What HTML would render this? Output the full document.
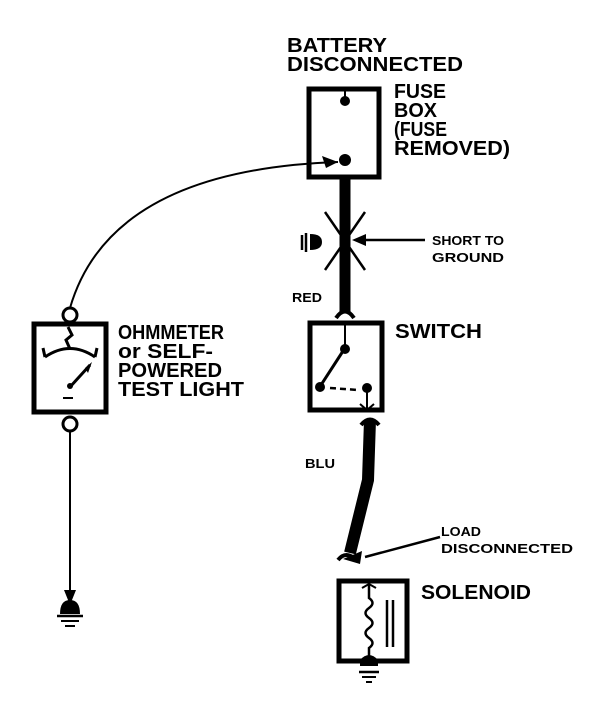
<!DOCTYPE html>
<html><head><style>body{margin:0;background:#fff}svg{display:block}text{font-family:"Liberation Sans",Arial,sans-serif;font-weight:bold;fill:#000}</style></head><body>
<svg width="608" height="708" viewBox="0 0 608 708" xmlns="http://www.w3.org/2000/svg">
<g font-size="20">
<text x="287" y="52" textLength="100" lengthAdjust="spacingAndGlyphs">BATTERY</text>
<text x="287" y="71" textLength="176" lengthAdjust="spacingAndGlyphs">DISCONNECTED</text>
<text x="394" y="98" textLength="52" lengthAdjust="spacingAndGlyphs">FUSE</text>
<text x="394" y="117" textLength="43" lengthAdjust="spacingAndGlyphs">BOX</text>
<text x="394" y="136" textLength="53" lengthAdjust="spacingAndGlyphs">(FUSE</text>
<text x="394" y="155" textLength="116" lengthAdjust="spacingAndGlyphs">REMOVED)</text>
<text x="395" y="338" textLength="87" lengthAdjust="spacingAndGlyphs">SWITCH</text>
<text x="118" y="339" textLength="106" lengthAdjust="spacingAndGlyphs">OHMMETER</text>
<text x="118" y="358" textLength="95" lengthAdjust="spacingAndGlyphs">or SELF-</text>
<text x="118" y="377" textLength="104" lengthAdjust="spacingAndGlyphs">POWERED</text>
<text x="118" y="396" textLength="126" lengthAdjust="spacingAndGlyphs">TEST LIGHT</text>
<text x="421" y="599" textLength="110" lengthAdjust="spacingAndGlyphs">SOLENOID</text>
</g>
<g font-size="13">
<text x="432" y="245" textLength="72" lengthAdjust="spacingAndGlyphs">SHORT TO</text>
<text x="432" y="262" textLength="72" lengthAdjust="spacingAndGlyphs">GROUND</text>
<text x="292" y="302" textLength="30" lengthAdjust="spacingAndGlyphs">RED</text>
<text x="305" y="468" textLength="30" lengthAdjust="spacingAndGlyphs">BLU</text>
<text x="441" y="536" textLength="40" lengthAdjust="spacingAndGlyphs">LOAD</text>
<text x="441" y="553" textLength="132" lengthAdjust="spacingAndGlyphs">DISCONNECTED</text>
</g>
<g fill="none" stroke="#000">
<rect x="309" y="89" width="70" height="88" stroke-width="5"/>
<line x1="345" y1="91" x2="345" y2="98" stroke-width="2"/>
<line x1="345" y1="177" x2="345" y2="312" stroke-width="11"/>
<path d="M336 318 Q345 305 354 318" stroke-width="4"/>
<line x1="325" y1="212" x2="365" y2="270" stroke-width="2.5"/>
<line x1="365" y1="212" x2="325" y2="270" stroke-width="2.5"/>
<line x1="425" y1="240" x2="360" y2="240" stroke-width="2.5"/>
<line x1="302" y1="235" x2="302" y2="250" stroke-width="2.5"/>
<line x1="306" y1="233" x2="306" y2="252" stroke-width="2.5"/>
<rect x="310" y="323" width="72" height="87" stroke-width="5"/>
<line x1="345" y1="325" x2="345" y2="345" stroke-width="2"/>
<line x1="345" y1="348" x2="321" y2="385" stroke-width="3"/>
<line x1="330" y1="388" x2="358" y2="390" stroke-width="2.5" stroke-dasharray="6 4"/>
<line x1="367" y1="390" x2="367" y2="408" stroke-width="2"/>
<path d="M360 404 L367 410 L374 404" stroke-width="2"/>
<path d="M370 420 L368 480 L350 553" stroke-width="12"/>
<path d="M361 425 Q370 414 379 425" stroke-width="4"/>
<path d="M338 560 Q346 550 356 560" stroke-width="4"/>
<line x1="440" y1="537" x2="365" y2="557" stroke-width="2.5"/>
<rect x="339" y="581" width="68" height="80" stroke-width="5"/>
<path d="M369 584 L369 598 Q376 603 369 608 Q362 613 369 618 Q376 623 369 628 Q362 633 369 638 Q376 643 369 648 L369 660" stroke-width="2.5"/>
<path d="M362 588 L369 584 L376 588" stroke-width="2"/>
<line x1="387" y1="600" x2="387" y2="647" stroke-width="2.5"/>
<line x1="393" y1="600" x2="393" y2="647" stroke-width="2.5"/>
<line x1="359" y1="672" x2="379" y2="672" stroke-width="2.5"/>
<line x1="362" y1="677" x2="376" y2="677" stroke-width="2"/>
<line x1="366" y1="682" x2="372" y2="682" stroke-width="2"/>
<rect x="34" y="324" width="72" height="88" stroke-width="5"/>
<circle cx="70" cy="315" r="7" stroke-width="3"/>
<circle cx="70" cy="424" r="7" stroke-width="3"/>
<path d="M70 308 Q110 170 338 162" stroke-width="2"/>
<path d="M45 357 Q70 340 95 357" stroke-width="3"/>
<path d="M45 357 L43 348 M95 357 L97 348" stroke-width="3"/>
<path d="M70 349 L66 340 L72 335 L68 327" stroke-width="3"/>
<line x1="70" y1="387" x2="90" y2="365" stroke-width="3"/>
<line x1="63" y1="398" x2="73" y2="398" stroke-width="2"/>
<line x1="70" y1="431" x2="70" y2="598" stroke-width="2"/>
<line x1="57" y1="616" x2="83" y2="616" stroke-width="2.5"/>
<line x1="61" y1="621" x2="79" y2="621" stroke-width="2"/>
<line x1="65" y1="626" x2="75" y2="626" stroke-width="2"/>
</g>
<g fill="#000">
<circle cx="345" cy="101" r="5"/>
<circle cx="345" cy="160" r="6"/>
<path d="M338 162 L322 156 L326 168 Z"/>
<path d="M310 234 Q322 234 322 242 Q322 250 310 250 Z"/>
<path d="M352 240 L366 234 L366 246 Z"/>
<circle cx="345" cy="349" r="5"/>
<circle cx="320" cy="387" r="5"/>
<circle cx="367" cy="388" r="5"/>
<path d="M343 559 L362 551 L360 564 Z"/>
<path d="M360 660 Q369 650 378 660 L378 666 L360 666 Z"/>
<path d="M70 605 L64 590 L76 590 Z"/>
<path d="M60 614 Q60 600 70 600 Q80 600 80 614 Z"/>
<path d="M85 368 L92 362 L88 373 Z"/>
<circle cx="70" cy="386" r="3"/>
</g>
</svg>
</body></html>
